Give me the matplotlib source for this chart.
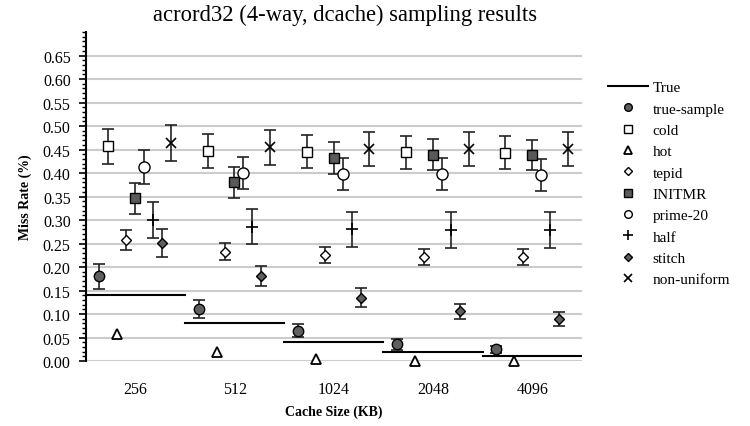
import numpy as np
import matplotlib
matplotlib.use("Agg")
import matplotlib.pyplot as plt
from matplotlib.lines import Line2D

plt.rcParams['font.family'] = ['Liberation Serif', 'DejaVu Serif']

sizes = ['256', '512', '1024', '2048', '4096']
true_rate = [0.14, 0.08, 0.04, 0.02, 0.01]

true_sample = [0.180, 0.111, 0.065, 0.036, 0.025]
true_sample_err = [0.026, 0.020, 0.014, 0.012, 0.008]
cold = [0.457, 0.447, 0.445, 0.444, 0.443]
cold_err = [0.037, 0.036, 0.035, 0.035, 0.035]
hot = [0.057, 0.019, 0.004, 0.001, 0.000]
hot_err = [0.0, 0.0, 0.0, 0.0, 0.0]
tepid = [0.258, 0.233, 0.225, 0.222, 0.221]
tepid_err = [0.021, 0.018, 0.017, 0.017, 0.017]
initmr = [0.346, 0.380, 0.431, 0.439, 0.438]
initmr_err = [0.033, 0.033, 0.034, 0.033, 0.032]
prime20 = [0.412, 0.400, 0.397, 0.397, 0.396]
prime20_err = [0.036, 0.035, 0.034, 0.034, 0.034]
half = [0.300, 0.286, 0.280, 0.279, 0.279]
half_err = [0.039, 0.037, 0.038, 0.038, 0.038]
stitch = [0.251, 0.181, 0.135, 0.106, 0.090]
stitch_err = [0.029, 0.021, 0.020, 0.016, 0.015]
nonuniform = [0.464, 0.455, 0.451, 0.451, 0.451]
nonuniform_err = [0.038, 0.037, 0.037, 0.037, 0.037]

series = [
    ('true-sample', true_sample, true_sample_err, dict(marker='o', mfc='#5f5f5f', mec='black', ms=7.5)),
    ('cold', cold, cold_err, dict(marker='s', mfc='white', mec='black', ms=7)),
    ('hot', hot, hot_err, dict(marker='^', mfc='white', mec='black', ms=6.5, mew=1.3)),
    ('tepid', tepid, tepid_err, dict(marker='D', mfc='white', mec='black', ms=5.5)),
    ('INITMR', initmr, initmr_err, dict(marker='s', mfc='#5a5a5a', mec='black', ms=7)),
    ('prime-20', prime20, prime20_err, dict(marker='o', mfc='white', mec='black', ms=8)),
    ('half', half, half_err, dict(marker='+', mfc='black', mec='black', ms=8, mew=1.2)),
    ('stitch', stitch, stitch_err, dict(marker='D', mfc='#5f5f5f', mec='black', ms=5.5)),
    ('non-uniform', nonuniform, nonuniform_err, dict(marker='x', mfc='black', mec='black', ms=7, mew=1.2)),
]
legend_ms = [5.5, 5.5, 5.5, 4.5, 5.5, 5.5, 6.5, 4.5, 5.5]

fig = plt.figure(figsize=(7.5, 4.27), dpi=100)
ax = fig.add_axes([0.1147, 0.152, 0.661, 0.7707])

x = np.arange(len(sizes))
n = len(series)
offsets = -0.365 + np.arange(n) * 0.0905

for i, (name, vals, errs, st) in enumerate(series):
    if max(errs) > 0:
        ax.errorbar(x + offsets[i], vals, yerr=errs, linestyle='none',
                    ecolor='#222222', elinewidth=1.2, capsize=4, capthick=1.2,
                    zorder=3, clip_on=False, **st)
    else:
        ax.plot(x + offsets[i], vals, linestyle='none', zorder=3, clip_on=False, **st)

for g, tv in enumerate(true_rate):
    ax.plot([g - 0.5, g + 0.5], [tv, tv], color='black', lw=1.5, zorder=2)

ax.set_xlim(-0.5, len(sizes) - 0.5)
ax.set_ylim(0, 0.70)
ax.set_yticks(np.arange(0, 0.651, 0.05))
ax.set_yticks(np.arange(0, 0.701, 0.01), minor=True)
ax.set_yticklabels(['%.2f' % v for v in np.arange(0, 0.651, 0.05)], fontsize=11.5)
ax.set_xticks(x)
ax.set_xticklabels(sizes, fontsize=11.5)
ax.tick_params(axis='x', length=0, pad=14)
ax.tick_params(axis='y', which='major', length=5, width=1.2, direction='out', pad=6)
ax.tick_params(axis='y', which='minor', length=3, width=1.0, direction='out')
ax.yaxis.grid(True, which='major', color='#cccccc', lw=1.5, zorder=0)
ax.set_axisbelow(True)
for s in ['top', 'right', 'bottom']:
    ax.spines[s].set_visible(False)
ax.spines['left'].set_linewidth(1.5)

ax.set_xlabel('Cache Size (KB)', fontsize=10, fontweight='bold', labelpad=6)
ax.set_ylabel('Miss Rate (%)', fontsize=10, fontweight='bold', labelpad=8)
fig.text(0.46, 0.963, 'acrord32 (4-way, dcache) sampling results', fontsize=16.3,
         ha='center', va='center')

handles = [Line2D([], [], color='black', lw=1.5)]
labels = ['True']
for (name, vals, errs, st), lms in zip(series, legend_ms):
    st2 = dict(st)
    st2['ms'] = lms
    handles.append(Line2D([], [], linestyle='none', **st2))
    labels.append(name)

fig.legend(handles, labels, loc='upper left', bbox_to_anchor=(0.803, 0.823),
           frameon=False, fontsize=11, handlelength=2.6, handletextpad=0.3,
           labelspacing=0.5, borderaxespad=0)

fig.savefig('out.png', dpi=100)
